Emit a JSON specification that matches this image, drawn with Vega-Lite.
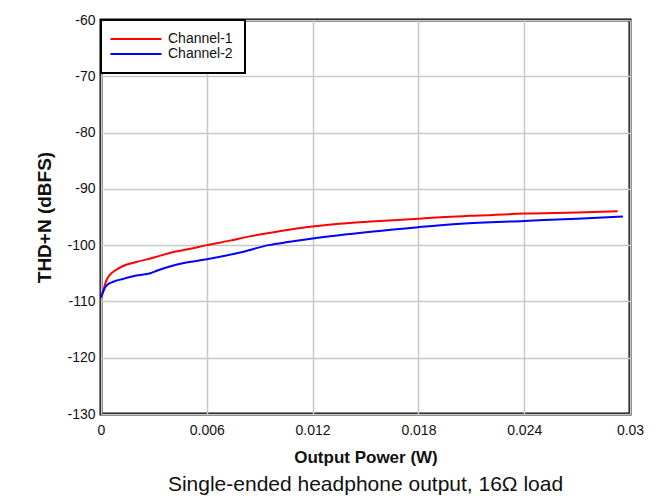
{
  "$schema": "https://vega.github.io/schema/vega-lite/v6.json",
  "width": 529,
  "height": 394,
  "autosize": {"type": "none"},
  "padding": {"left": 101, "top": 20, "right": 37, "bottom": 82},
  "background": "white",
  "config": {
    "font": "Liberation Sans",
    "view": {"stroke": "black", "strokeWidth": 3},
    "legend": {"strokeWidth": 2},
    "axis": {"domain": false, "ticks": false, "gridColor": "#c8c8c8", "gridWidth": 1.5, "labelColor": "#111", "labelFontSize": 14, "titleFontSize": 17, "titleFontWeight": "bold", "titleColor": "#111", "labelFlush": false, "labelOverlap": false}
  },
  "title": {"text": "Single-ended headphone output, 16Ω load", "orient": "bottom", "anchor": "middle", "fontSize": 21, "fontWeight": "normal", "color": "#111", "offset": 8},
  "data": {"values": [
    {"p": 0, "thd": -109.3, "ch": "Channel-1"},
    {"p": 0.0001, "thd": -108.5, "ch": "Channel-1"},
    {"p": 0.0002, "thd": -107.3, "ch": "Channel-1"},
    {"p": 0.0003, "thd": -106.3, "ch": "Channel-1"},
    {"p": 0.0005, "thd": -105.3, "ch": "Channel-1"},
    {"p": 0.0008, "thd": -104.5, "ch": "Channel-1"},
    {"p": 0.00125, "thd": -103.7, "ch": "Channel-1"},
    {"p": 0.002, "thd": -103.0, "ch": "Channel-1"},
    {"p": 0.003, "thd": -102.2, "ch": "Channel-1"},
    {"p": 0.004, "thd": -101.3, "ch": "Channel-1"},
    {"p": 0.005, "thd": -100.7, "ch": "Channel-1"},
    {"p": 0.006, "thd": -100.0, "ch": "Channel-1"},
    {"p": 0.0073, "thd": -99.2, "ch": "Channel-1"},
    {"p": 0.0085, "thd": -98.4, "ch": "Channel-1"},
    {"p": 0.0096, "thd": -97.8, "ch": "Channel-1"},
    {"p": 0.011, "thd": -97.1, "ch": "Channel-1"},
    {"p": 0.012, "thd": -96.7, "ch": "Channel-1"},
    {"p": 0.0135, "thd": -96.2, "ch": "Channel-1"},
    {"p": 0.0153, "thd": -95.8, "ch": "Channel-1"},
    {"p": 0.018, "thd": -95.3, "ch": "Channel-1"},
    {"p": 0.0195, "thd": -95.0, "ch": "Channel-1"},
    {"p": 0.0209, "thd": -94.8, "ch": "Channel-1"},
    {"p": 0.024, "thd": -94.4, "ch": "Channel-1"},
    {"p": 0.027, "thd": -94.2, "ch": "Channel-1"},
    {"p": 0.0293, "thd": -94.0, "ch": "Channel-1"},
    {"p": 0, "thd": -109.3, "ch": "Channel-2"},
    {"p": 0.0001, "thd": -108.4, "ch": "Channel-2"},
    {"p": 0.0002, "thd": -107.7, "ch": "Channel-2"},
    {"p": 0.00034, "thd": -107.1, "ch": "Channel-2"},
    {"p": 0.0007, "thd": -106.5, "ch": "Channel-2"},
    {"p": 0.00125, "thd": -106.0, "ch": "Channel-2"},
    {"p": 0.002, "thd": -105.4, "ch": "Channel-2"},
    {"p": 0.0028, "thd": -105.0, "ch": "Channel-2"},
    {"p": 0.0032, "thd": -104.5, "ch": "Channel-2"},
    {"p": 0.004, "thd": -103.7, "ch": "Channel-2"},
    {"p": 0.005, "thd": -103.0, "ch": "Channel-2"},
    {"p": 0.006, "thd": -102.5, "ch": "Channel-2"},
    {"p": 0.0079, "thd": -101.3, "ch": "Channel-2"},
    {"p": 0.0095, "thd": -100.0, "ch": "Channel-2"},
    {"p": 0.0107, "thd": -99.4, "ch": "Channel-2"},
    {"p": 0.012, "thd": -98.8, "ch": "Channel-2"},
    {"p": 0.0153, "thd": -97.6, "ch": "Channel-2"},
    {"p": 0.018, "thd": -96.8, "ch": "Channel-2"},
    {"p": 0.0204, "thd": -96.2, "ch": "Channel-2"},
    {"p": 0.024, "thd": -95.7, "ch": "Channel-2"},
    {"p": 0.027, "thd": -95.3, "ch": "Channel-2"},
    {"p": 0.0296, "thd": -94.9, "ch": "Channel-2"}
  ]},
  "mark": {"type": "line", "strokeWidth": 2, "interpolate": "monotone"},
  "encoding": {
    "x": {"field": "p", "type": "quantitative", "title": "Output Power (W)",
      "scale": {"domain": [0, 0.03], "nice": false},
      "axis": {"values": [0, 0.006, 0.012, 0.018, 0.024, 0.03], "format": "~g", "labelPadding": 9.5, "titlePadding": 12}},
    "y": {"field": "thd", "type": "quantitative", "title": "THD+N (dBFS)",
      "scale": {"domain": [-130, -60], "nice": false, "zero": false},
      "axis": {"values": [-130, -120, -110, -100, -90, -80, -70, -60], "labelExpr": "replace(datum.label, '−', '-')", "labelPadding": 6, "titlePadding": 12, "titleFontSize": 19}},
    "color": {"field": "ch", "type": "nominal",
      "scale": {"domain": ["Channel-1", "Channel-2"], "range": ["#ff0000", "#0000ff"]},
      "legend": {"title": null, "orient": "top-left", "offset": 0, "fillColor": "white", "strokeColor": "black", "padding": 12, "symbolType": "M-10,0H10", "symbolSize": 26, "symbolOffset": 16, "symbolStrokeWidth": 2, "labelFontSize": 14, "labelColor": "#111", "labelOffset": 25, "rowPadding": 1}}
  }
}
